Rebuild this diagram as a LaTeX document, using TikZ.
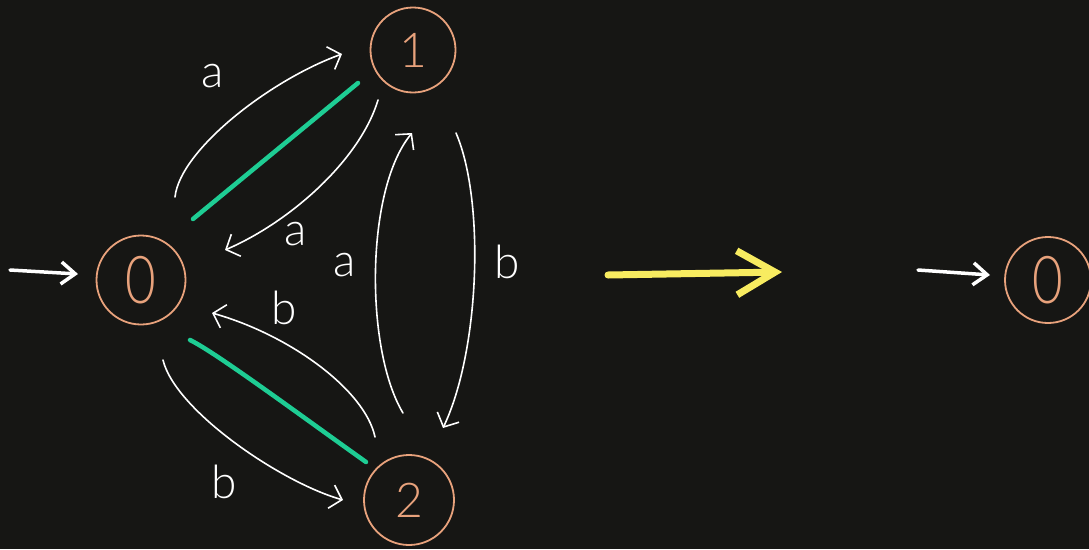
\documentclass[tikz,border=0pt]{standalone}
\usepackage{fontspec}
\IfFontExistsTF{Lato Light}{\setmainfont{Lato Light}}{\setmainfont{Lato}}
\usetikzlibrary{arrows.meta}
\definecolor{bg}{RGB}{22,22,20}
\definecolor{orng}{RGB}{232,162,124}
\definecolor{grn}{RGB}{30,205,148}
\definecolor{ylw}{RGB}{248,236,96}
\begin{document}
\begin{tikzpicture}[x=1pt,y=-1pt,
  state/.style={circle, draw=orng, line width=1.8pt, inner sep=0pt, text=orng,
    font=\fontsize{48}{48}\selectfont},
  edge/.style={draw=white, line width=1.6pt, line cap=round, line join=round,
    -{Straight Barb[length=11pt,width=24pt]}},
  lbl/.style={text=white, font=\fontsize{46}{46}\selectfont, inner sep=0pt},
  hi/.style={draw=grn, line width=4.5pt, line cap=round},
  entry/.style={draw=white, line width=3.5pt, line cap=round, line join=round,
    -{Straight Barb[length=14pt,width=22pt]}},
  bigarrow/.style={draw=ylw, line width=7pt, line cap=round, line join=round,
    -{Straight Barb[length=38pt,width=44pt]}}]
\fill[bg] (0,0) rectangle (1089,549);
\useasboundingbox (0,0) rectangle (1089,549);

% states
\node[state, minimum size=89pt] (n0) at (141,280) {\scalebox{0.8}[1]{\fontsize{66}{66}\selectfont 0}};
\node[state, minimum size=85pt] (n1) at (413,50) {1};
\node[state, minimum size=90pt] (n2) at (409,500) {2};
\node[state, minimum size=86pt] (m0) at (1048,280) {\scalebox{0.8}[1]{\fontsize{66}{66}\selectfont 0}};

% entry arrows
\coordinate (e0s) at (10,270);
\coordinate (e0e) at (78,274);
\draw[entry] (e0s) -- (e0e);
\coordinate (f0s) at (918,270);
\coordinate (f0e) at (990,275);
\draw[entry] (f0s) -- (f0e);

% transformation arrow
\coordinate (ts) at (608,275);
\coordinate (te) at (782,272);
\draw[bigarrow] (ts) -- (te);

% edge end points
\coordinate (a01s) at (175,197);
\coordinate (a01e) at (342,54);
\coordinate (a10s) at (378,100);
\coordinate (a10e) at (225,250);
\coordinate (b20s) at (375,437);
\coordinate (b20e) at (212,313);
\coordinate (b02s) at (163,360);
\coordinate (b02e) at (343,500);
\coordinate (a21s) at (403,413);
\coordinate (a21e) at (412,133);
\coordinate (b12s) at (456,133);
\coordinate (b12e) at (443,428);

% highlight strokes
\coordinate (g1s) at (358,83);
\coordinate (g1e) at (193,219);
\coordinate (g2s) at (190,340);
\coordinate (g2e) at (366,462);
\draw[hi] (g1s) -- (g1e);
\draw[hi] (g2s) .. controls (215,352) and (300,415) .. (g2e);

% edges
\draw[edge] (a01s) .. controls (180,150) and (270,80) .. (a01e);
\draw[edge] (a10s) .. controls (360,160) and (290,222) .. (a10e);
\draw[edge] (b20s) .. controls (365,390) and (290,335) .. (b20e);
\draw[edge] (b02s) .. controls (175,410) and (280,482) .. (b02e);
\draw[edge] (a21s) .. controls (365,350) and (365,190) .. (a21e);
\draw[edge] (b12s) .. controls (485,200) and (480,350) .. (b12e);

% labels
\node[lbl] (la01) at (213,76) {a};
\node[lbl] (la10) at (296,234) {a};
\node[lbl] (la21) at (345,265) {a};
\node[lbl] (lb12) at (507,262) {b};
\node[lbl] (lb20) at (284,308) {b};
\node[lbl] (lb02) at (224,482) {b};
\end{tikzpicture}
\end{document}
